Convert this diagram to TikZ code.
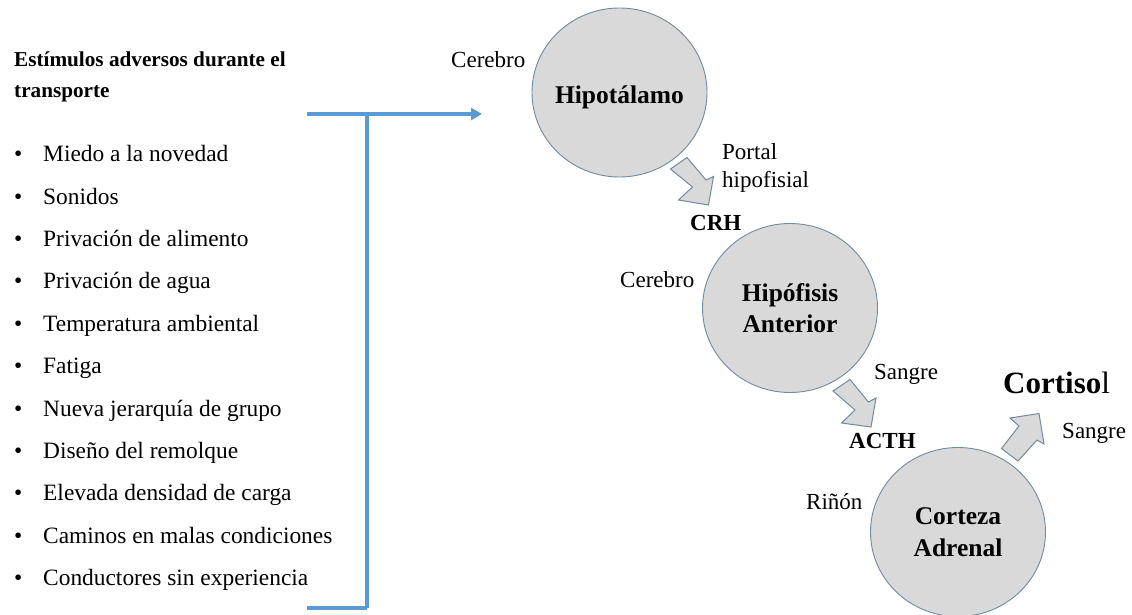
\documentclass[tikz,border=0pt]{standalone}
\usepackage{fontspec}
\setmainfont{Liberation Serif}
\usetikzlibrary{arrows.meta,shapes.geometric}
\definecolor{circfill}{HTML}{D9D9D9}
\definecolor{circline}{HTML}{6E8BA5}
\definecolor{bluel}{HTML}{5B9BD5}
\tikzset{
  organ/.style={ellipse,draw=circline,fill=circfill,line width=0.9pt,minimum width=175pt,minimum height=169pt,inner sep=-12pt,align=center,font=\fontsize{25.5}{31.5}\selectfont\bfseries},
  blockarrow/.style={draw=circline,fill=circfill,line width=1pt,line join=miter},
  bluepath/.style={draw=bluel,line width=3.8pt},
  lab/.style={inner sep=0pt,anchor=base west,font=\fontsize{23}{28}\selectfont},
  labb/.style={inner sep=0pt,anchor=base west,font=\fontsize{23}{28}\selectfont\bfseries},
  headb/.style={inner sep=0pt,anchor=base west,font=\fontsize{21.2}{26}\selectfont\bfseries},
  item/.style={inner sep=0pt,anchor=base west,font=\fontsize{23.4}{28}\selectfont},
  bul/.style={inner sep=0pt,anchor=base west,font=\fontsize{23.4}{28}\selectfont}
}
\begin{document}
\begin{tikzpicture}[x=1pt,y=-1pt]
\useasboundingbox (0,0) rectangle (1132,615);
% Heading
\node[headb] (head1) at (14,67) {Estímulos adversos durante el};
\node[headb] (head2) at (14,98) {transporte};
% List
\foreach \n/\yy/\t in {a/161.5/Miedo a la novedad,b/204/Sonidos,c/246.5/Privación de alimento,d/288.5/Privación de agua,e/331/Temperatura ambiental,f/373.5/Fatiga,g/416/Nueva jerarquía de grupo,h/458.5/Diseño del remolque,i/500.5/Elevada densidad de carga,j/543/Caminos en malas condiciones,k/585.5/Conductores sin experiencia}{
  \node[bul] (b\n) at (14,\yy) {•};
  \node[item] (t\n) at (43,\yy) {\t};
}
% Blue bracket
\coordinate (s1) at (307,114);
\coordinate (j1) at (367,114);
\coordinate (e1) at (482,114);
\coordinate (s2) at (307,608);
\coordinate (j2) at (367,608);
\draw[bluepath,-{Triangle[length=11pt,width=12pt]}] (s1) -- (e1);
\draw[bluepath] (j1) -- (j2);
\draw[bluepath] (s2) -- (j2);
% Organs
\node[organ] (hipot) at (619.5,92.5) {\raisebox{-11.5pt}[0pt][0pt]{Hipotálamo}};
\node[organ] (hipof) at (790,308) {Hipófisis\\Anterior};
\node[organ] (cort) at (958,532) {Corteza\\Adrenal};
% Block arrows
\draw[blockarrow] (670.5,169) -- (687,157.5) -- (706,180) -- (713.5,176.5) -- (708.5,205) -- (678.5,200) -- (692.5,187) -- cycle;
\draw[blockarrow] (833,391) -- (850,379.5) -- (868.5,402) -- (876,398) -- (871,427) -- (841.5,423) -- (855,410) -- cycle;
\draw[blockarrow] (1001.5,448.5) -- (1018,461) -- (1037,440) -- (1044,444) -- (1039,413.5) -- (1010,418) -- (1019,426) -- cycle;
% Labels
\node[lab] (c1) at (451,68) {Cerebro};
\node[lab] (p1) at (722,159) {Portal};
\node[lab] (p2) at (722,187) {hipofisial};
\node[labb] (crh) at (690,230) {CRH};
\node[lab] (c2) at (620,287) {Cerebro};
\node[lab] (s3) at (874,379) {Sangre};
\node[labb] (acth) at (849,448) {ACTH};
\node[inner sep=0pt,anchor=base west,font=\fontsize{31}{36}\selectfont] (co) at (1003,393) {\textbf{Cortiso}l};
\node[lab] (s4) at (1062,438) {Sangre};
\node[lab] (ri) at (806,509) {Riñón};
\end{tikzpicture}
\end{document}
